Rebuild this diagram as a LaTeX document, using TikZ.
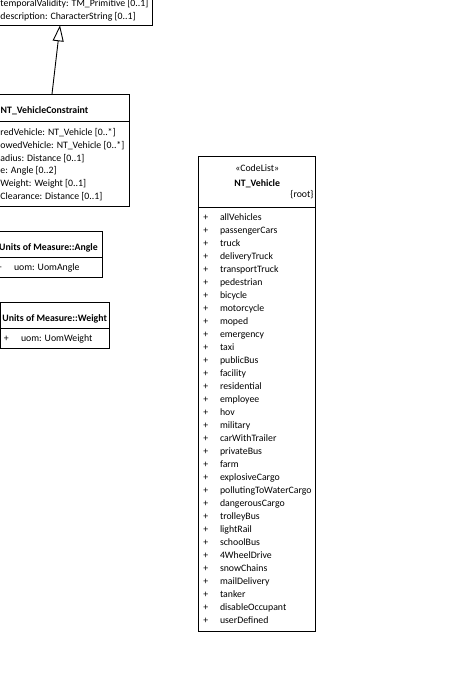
\documentclass[tikz,border=0pt]{standalone}
\usepackage{fontspec}
\setmainfont{Carlito}
\usetikzlibrary{arrows.meta, positioning}
\tikzstyle{classbox} = [rectangle, draw, line width=0.9pt, inner sep=0, outer sep=0]
\tikzstyle{txt} = [inner sep=0, outer sep=0, anchor=base west, font=\fontsize{9.8}{13}\selectfont]
\tikzstyle{title} = [txt, anchor=base, font=\fontsize{9.8}{13}\selectfont\bfseries]
\tikzstyle{sep} = [draw, line width=0.9pt]
\tikzstyle{line} = [draw, line width=0.9pt, -{Triangle[open, length=16pt, width=11pt, line width=0.9pt]}]

\begin{document}
\begin{tikzpicture}[x=1pt, y=-1pt]
\useasboundingbox (0,0) rectangle (473,699);
\clip (0,0) rectangle (473,699);

% class above, only its lower part shows
\node [classbox, minimum width=212.7pt, minimum height=45.3pt] (top) at (46.35,2.65) {};
\node [txt] (top1) at (0.5,6) {temporalValidity: TM\_Primitive [0..1]};
\node [txt] (top2) at (0.5,19) {description: CharacterString [0..1]};

% NT_VehicleConstraint
\node [classbox, minimum width=169pt, minimum height=112.5pt] (vc) at (44.5,150.25) {};
\node [title] (vcname) at (44.5,113) {NT\_VehicleConstraint};
\coordinate (vcsep) at (0,121.7);
\draw [sep] (vc.west |- vcsep) -- (vc.east |- vcsep);
\node [txt] (vc1) at (0.5,135.5) {redVehicle: NT\_Vehicle [0..*]};
\node [txt] (vc2) at (0.5,148.3) {owedVehicle: NT\_Vehicle [0..*]};
\node [txt] (vc3) at (0.5,161.1) {adius: Distance [0..1]};
\node [txt] (vc4) at (0.5,173.9) {e: Angle [0..2]};
\node [txt] (vc5) at (0.5,186.7) {Weight: Weight [0..1]};
\node [txt] (vc6) at (0.5,199.5) {Clearance: Distance [0..1]};

\path [line] ([xshift=7.5pt]vc.north) -- ([xshift=13.65pt]top.south);

% Units of Measure::Angle
\node [classbox, minimum width=107pt, minimum height=46pt] (angle) at (48.5,254) {};
\node [title] (anglename) at (48.5,250) {Units of Measure::Angle};
\coordinate (anglesep) at (0,257);
\draw [sep] (angle.west |- anglesep) -- (angle.east |- anglesep);
\node [txt] (angleplus) at (-3,270.8) {+};
\node [txt] (angleuom) at (14,270.8) {uom: UomAngle};

% Units of Measure::Weight
\node [classbox, minimum width=108.7pt, minimum height=46pt] (weight) at (54.65,325) {};
\node [title] (weightname) at (54.65,321) {Units of Measure::Weight};
\coordinate (weightsep) at (0,328);
\draw [sep] (weight.west |- weightsep) -- (weight.east |- weightsep);
\node [txt] (weightplus) at (4,341.8) {+};
\node [txt] (weightuom) at (21,341.8) {uom: UomWeight};

% NT_Vehicle code list
\node [classbox, minimum width=117.1pt, minimum height=475pt] (veh) at (257.25,393.5) {};
\node [txt, anchor=base] (vehstereo) at (257.25,171.5) {«CodeList»};
\node [title] (vehname) at (257.25,186.5) {NT\_Vehicle};
\node [txt, anchor=base east] (vehroot) at (313.5,197.5) {\{root\}};
\coordinate (vehsep) at (0,207.5);
\draw [sep] (veh.west |- vehsep) -- (veh.east |- vehsep);
\foreach \lit [count=\i from 0] in {allVehicles, passengerCars, truck, deliveryTruck,
  transportTruck, pedestrian, bicycle, motorcycle, moped, emergency, taxi, publicBus,
  facility, residential, employee, hov, military, carWithTrailer, privateBus, farm,
  explosiveCargo, pollutingToWaterCargo, dangerousCargo, trolleyBus, lightRail,
  schoolBus, 4WheelDrive, snowChains, mailDelivery, tanker, disableOccupant, userDefined}
{
  \node [txt] (plus\i) at (203.3,220+13*\i) {+};
  \node [txt] (lit\i) at (220,220+13*\i) {\lit};
}

\end{tikzpicture}
\end{document}
